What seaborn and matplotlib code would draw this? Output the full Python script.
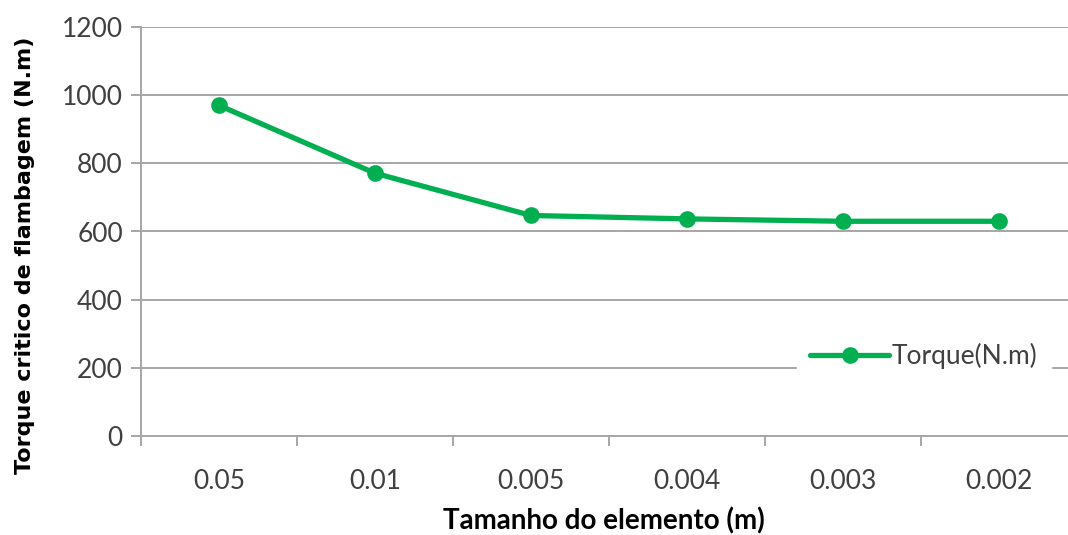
import matplotlib
matplotlib.use("Agg")
import matplotlib.pyplot as plt
import seaborn as sns
import numpy as np

categories = ["0.05", "0.01", "0.005", "0.004", "0.003", "0.002"]
torque = [970, 771, 647, 637, 630, 630]
series_label = "Torque(N.m)"
y_ticks = [0, 200, 400, 600, 800, 1000, 1200]

sns.set_style("white")
plt.rcParams["font.family"] = ["Lato", "DejaVu Sans"]

green = "#00B050"
grid_c = "#A6A6A6"
text_c = "#404040"

fig = plt.figure(figsize=(10.68, 5.35), dpi=100)
ax = fig.add_axes([141 / 1068, 1 - 436 / 535, 936 / 1068, (436 - 27) / 535])

sns.lineplot(x=categories, y=torque, sort=False, color=green, linewidth=3.8,
             marker="o", markersize=12, markeredgewidth=0, label=series_label, ax=ax)

ax.set_xlim(-0.5, len(categories) - 0.5)
ax.set_ylim(0, 1200)
ax.set_yticks(y_ticks)
ax.set_yticklabels([str(v) for v in y_ticks])
ax.yaxis.grid(True, color=grid_c, linewidth=1.4)
ax.set_axisbelow(True)

for s in ["top", "right"]:
    ax.spines[s].set_visible(False)
for s in ["left", "bottom"]:
    ax.spines[s].set_color(grid_c)
    ax.spines[s].set_linewidth(1.4)

ax.tick_params(axis="y", which="major", direction="out", length=7, width=1.4,
               color=grid_c, labelsize=19, labelcolor=text_c, pad=6, left=True)
ax.set_xticks(range(len(categories)))
ax.set_xticklabels(categories)
ax.set_xticks(np.arange(-0.5, len(categories) + 0.5, 1), minor=True)
ax.tick_params(axis="x", which="major", length=0, labelsize=19, labelcolor=text_c, pad=24)
ax.tick_params(axis="x", which="minor", direction="out", length=7, width=1.4,
               color=grid_c, bottom=True)

ax.set_xlabel("Tamanho do elemento (m)", fontsize=20, fontweight="bold", color="black")
ax.xaxis.set_label_coords(604 / 1068, 1 - 521 / 535, transform=fig.transFigure)
ax.xaxis.label.set_va("center")
ax.set_ylabel("Torque critico de flambagem (N.m)", fontsize=16, fontweight="bold",
              family="DejaVu Sans", color="black")
ax.yaxis.set_label_coords(25 / 1068, 1 - 255 / 535, transform=fig.transFigure)
ax.yaxis.label.set_ha("center")
ax.yaxis.label.set_va("center")

leg = ax.legend(loc="center left", bbox_to_anchor=(797 / 1068, 1 - 356 / 535),
                bbox_transform=fig.transFigure, frameon=True, fontsize=19,
                handlelength=3.0, handletextpad=0.1, borderpad=0.5,
                borderaxespad=0)
leg.get_frame().set_facecolor("white")
leg.get_frame().set_edgecolor("white")
leg.get_frame().set_alpha(1)
for t in leg.get_texts():
    t.set_color(text_c)

fig.savefig("out.png", dpi=100)
